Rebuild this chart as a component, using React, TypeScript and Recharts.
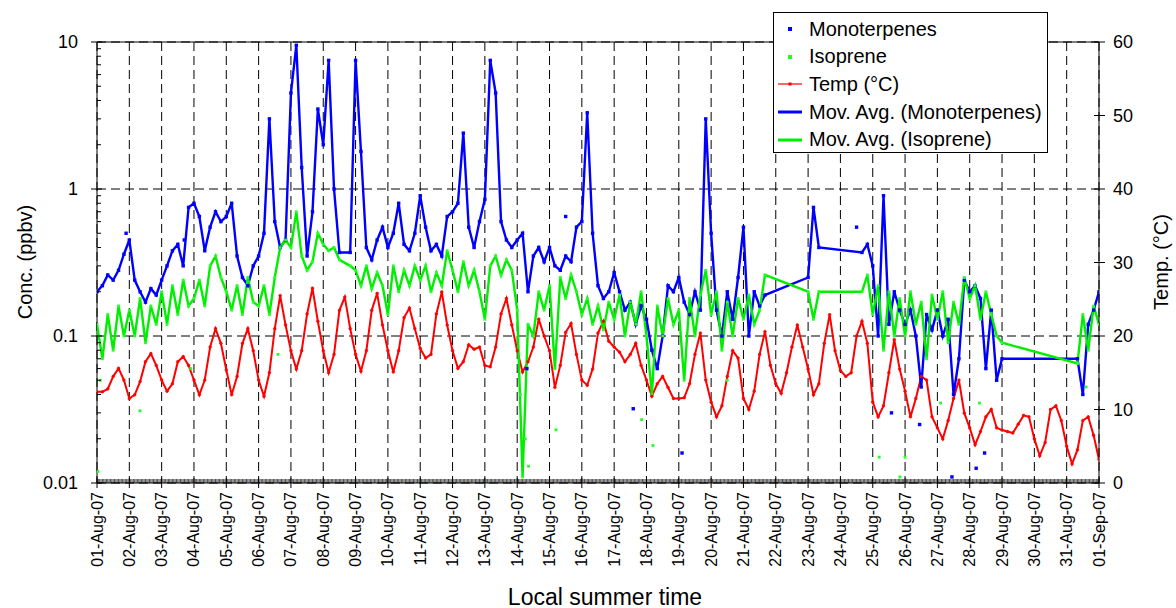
import React from 'react';
import { ComposedChart, Line, Scatter, XAxis, YAxis, CartesianGrid, ReferenceLine } from 'recharts';

// samples every 4 h, starting 01-Aug-07 00:00
const SAMPLES_PER_DAY = 6;

const dateLabels = [
  '01-Aug-07', '02-Aug-07', '03-Aug-07', '04-Aug-07', '05-Aug-07', '06-Aug-07', '07-Aug-07', '08-Aug-07',
  '09-Aug-07', '10-Aug-07', '11-Aug-07', '12-Aug-07', '13-Aug-07', '14-Aug-07', '15-Aug-07', '16-Aug-07',
  '17-Aug-07', '18-Aug-07', '19-Aug-07', '20-Aug-07', '21-Aug-07', '22-Aug-07', '23-Aug-07', '24-Aug-07',
  '25-Aug-07', '26-Aug-07', '27-Aug-07', '28-Aug-07', '29-Aug-07', '30-Aug-07', '31-Aug-07', '01-Sep-07',
];

// ppbv
const monoterpenes = [
  0.2, 0.22, 0.26, 0.24, 0.28, 0.36,
  0.45, 0.24, 0.2, 0.17, 0.21, 0.19,
  0.24, 0.3, 0.38, 0.42, 0.3, 0.75,
  0.8, 0.65, 0.38, 0.55, 0.7, 0.6,
  0.65, 0.8, 0.35, 0.25, 0.22, 0.3,
  0.35, 0.5, 3.0, 0.6, 0.4, 0.45,
  4.5, 9.5, 1.4, 0.35, 0.7, 3.5,
  2.0, 7.5, 1.0, 0.37, null, 0.37,
  7.5, 1.8, 0.4, 0.33, 0.45, 0.55,
  0.4, 0.5, 0.8, 0.42, 0.38, 0.5,
  0.9, 0.55, 0.38, 0.42, 0.35, 0.65,
  0.7, 0.8, 2.4, 0.55, 0.4, 0.6,
  0.85, 7.5, 4.5, 0.6, 0.45, 0.4,
  0.45, 0.5, 0.2, 0.35, 0.4, 0.32,
  0.4, 0.3, 0.28, 0.35, 0.32, 0.55,
  0.6, 3.3, 0.5, 0.22, 0.18, 0.2,
  0.27, 0.2, 0.15, 0.17, 0.12, 0.16,
  0.13, 0.08, 0.06, 0.1, 0.22, 0.2,
  0.25, 0.17, 0.14, 0.2, 0.15, 3.0,
  0.5, 0.15, 0.1, 0.2, 0.13, 0.25,
  0.55, 0.1, 0.2, 0.16, 0.19, null,
  null, null, null, null, null, null,
  0.25, 0.75, 0.4, null, null, null,
  null, null, null, null, 0.37, 0.42,
  0.3, 0.1, 0.9, 0.12, 0.2, 0.15,
  0.12, 0.15, 0.1, 0.045, 0.14, 0.11,
  0.15, 0.1, 0.13, 0.04, 0.07, 0.24,
  0.2, 0.22, 0.18, 0.06, 0.15, 0.05,
  0.07, null, null, null, null, null,
  null, null, null, null, null, null,
  null, null, 0.07, 0.04, 0.12, 0.15,
  0.2,
];

const isoprene = [
  0.12, 0.07, 0.14, 0.08, 0.16, 0.1,
  0.15, 0.1, 0.18, 0.09, 0.16, 0.12,
  0.2, 0.12, 0.22, 0.14, 0.24, 0.16,
  0.18, 0.24, 0.16, 0.3, 0.35, 0.25,
  0.2, 0.15, 0.22, 0.14, 0.25, 0.17,
  0.16, 0.22, 0.14, 0.25, 0.4, 0.45,
  0.4, 0.7, 0.35, 0.28, 0.32, 0.5,
  0.42, 0.38, 0.4, 0.33, null, 0.3,
  0.28, 0.22, 0.3, 0.21, 0.27, 0.22,
  0.14, 0.3, 0.2, 0.28, 0.22, 0.3,
  0.24, 0.3, 0.2, 0.27, 0.22, 0.38,
  0.28, 0.2, 0.32, 0.22, 0.28, 0.2,
  0.13, 0.3, 0.35, 0.26, 0.33, 0.28,
  0.15, 0.011, 0.12, 0.1, 0.2, 0.15,
  0.22, 0.06, 0.25, 0.18, 0.26, 0.2,
  0.14, 0.18, 0.12, 0.16, 0.11, 0.17,
  0.13, 0.19, 0.1, 0.17, 0.12, 0.2,
  0.1, 0.04, 0.16, 0.1, 0.18, 0.12,
  0.15, 0.05, 0.18, 0.1, 0.19, 0.28,
  0.14, 0.2, 0.08, 0.17, 0.1, 0.18,
  0.13, 0.19, 0.12, 0.15, 0.26, null,
  null, null, null, null, null, null,
  0.2, 0.13, 0.2, null, null, null,
  null, null, null, null, 0.2, 0.26,
  0.14, 0.22, 0.08, 0.2, 0.1, 0.18,
  0.1, 0.2, 0.12, 0.17, 0.07, 0.19,
  0.13, 0.2, 0.09, 0.17, 0.12, 0.25,
  0.18, 0.22, 0.13, 0.2, 0.14, 0.1,
  0.09, null, null, null, null, null,
  null, null, null, null, null, null,
  null, null, 0.065, 0.14, 0.08, 0.16,
  0.12,
];

// °C
const temperature = [
  12.4, 12.4, 12.8, 14.5, 15.6, 14.0,
  11.5, 12.0, 13.8, 16.5, 17.6, 16.0,
  14.0, 12.5, 13.5, 16.5, 17.2, 16.0,
  14.0, 12.0, 14.0, 18.5, 21.0, 19.0,
  15.4, 12.0, 14.5, 19.0, 21.0, 18.0,
  14.0, 11.8, 15.0, 21.0, 25.5, 21.5,
  18.0, 15.5, 18.0, 23.0, 26.5, 22.0,
  18.0, 15.0, 17.5, 23.5, 25.3, 21.0,
  17.5, 15.2, 18.0, 23.5, 25.8, 21.5,
  18.0, 15.1, 18.0, 22.5, 23.8, 21.0,
  18.3, 17.0, 17.5, 23.0, 26.0, 21.5,
  18.0, 15.6, 16.5, 18.8, 18.2, 18.5,
  16.0, 15.8, 18.5, 23.0, 25.1, 21.5,
  18.0, 15.1, 16.5, 18.5, 22.3, 20.0,
  18.0, 13.0, 16.0, 20.5, 21.7, 17.5,
  14.0, 13.3, 15.5, 20.4, 22.0, 19.3,
  18.5, 17.8, 16.5, 17.5, 19.0, 16.0,
  14.0, 11.8, 13.5, 14.5, 13.0, 11.5,
  11.5, 11.6, 13.5, 17.5, 20.4, 14.0,
  11.0, 9.0, 10.5, 14.5, 18.0, 17.0,
  11.5, 10.0, 12.5, 17.5, 20.6, 16.0,
  13.5, 12.2, 15.0, 18.5, 21.5, 18.5,
  15.5, 12.0, 13.5, 19.0, 22.9, 18.0,
  15.3, 14.5, 15.0, 20.0, 22.0, 19.0,
  11.0, 9.0, 10.5, 15.0, 19.5, 15.5,
  12.5, 9.0, 11.5, 14.5, 14.0, 9.0,
  7.5, 6.0, 8.5, 11.5, 14.0, 9.5,
  7.5, 5.2, 7.0, 9.0, 10.0, 7.5,
  7.2, 7.0, 6.8, 8.0, 9.2, 9.0,
  6.0, 3.7, 5.5, 10.0, 10.5, 8.5,
  5.0, 2.6, 4.5, 8.5, 9.0, 6.5,
  3.2,
];

// isolated raw readings away from the running mean: [day, ppbv]
const monoStray = [
  [0.9, 0.5], [2.7, 0.45], [13.3, 0.06], [14.5, 0.65], [16.59, 0.032], [18.1, 0.016],
  [23.5, 0.55], [24.58, 0.03], [25.45, 0.025], [26.45, 0.011], [27.2, 0.0126], [27.46, 0.016],
];
const isoStray = [
  [0.03, 0.012], [0.1, 0.05], [1.33, 0.031], [2.9, 0.06], [5.6, 0.075], [13.1, 0.04],
  [13.25, 0.02], [13.35, 0.013], [14.2, 0.023], [16.85, 0.027], [17.2, 0.018], [19.5, 0.05],
  [24.2, 0.015], [24.84, 0.011], [25.0, 0.015], [26.1, 0.035], [27.3, 0.035], [30.6, 0.045],
];

const concTicks = [
  0.01, 0.02, 0.03, 0.04, 0.05, 0.06, 0.07, 0.08, 0.09,
  0.1, 0.2, 0.3, 0.4, 0.5, 0.6, 0.7, 0.8, 0.9,
  1, 2, 3, 4, 5, 6, 7, 8, 9, 10,
];
const concMajor = [0.01, 0.1, 1, 10];
const concLabels = ['0.01', '0.1', '1', '10'];
const tempTicks = [0, 10, 20, 30, 40, 50, 60];
const dayTicks = dateLabels.map((_, i) => i);

// layout
const W = 1176;
const H = 608;
const M_LEFT = 37;
const M_RIGHT = 17;
const AXIS_W = 60;
const PLOT_LEFT = M_LEFT + AXIS_W;
const PLOT_RIGHT = W - M_RIGHT - AXIS_W;
const HOUR_PX = (PLOT_RIGHT - PLOT_LEFT) / 31 / 24;

const FONT = '"Liberation Sans", Arial, sans-serif';
const BLUE = '#0000ff';
const GREEN = '#00ee00';
const LIGHT_GREEN = '#22ff22';
const RED = '#ff0000';

const toSeries = (arr: (number | null)[]) => arr.map((v, i) => ({ t: i / SAMPLES_PER_DAY, v }));
const toPoints = (arr: (number | null)[], stray: number[][]) =>
  toSeries(arr)
    .filter((p) => p.v !== null)
    .concat(stray.map(([t, v]) => ({ t, v })));

const monoLine = toSeries(monoterpenes);
const isoLine = toSeries(isoprene);
const tempLine = toSeries(temperature);
const monoPoints = toPoints(monoterpenes, monoStray);
const isoPoints = toPoints(isoprene, isoStray);

const DateTick = (props: any) => {
  const { x, y, payload } = props;
  const day = payload.value;
  const minors = [];
  if (day < 31) {
    for (let h = 1; h < 24; h++) {
      const mx = x + h * HOUR_PX;
      minors.push(<line key={h} x1={mx} x2={mx} y1={y - 4} y2={y} stroke="#000" strokeWidth={0.7} />);
    }
  }
  return (
    <g>
      {minors}
      <line x1={x} x2={x} y1={y - 5} y2={y + 5} stroke="#000" />
      <text
        transform={`translate(${x + 5.5},${y + 9}) rotate(-90)`}
        textAnchor="end"
        fontSize={16}
        fontFamily={FONT}
        fill="#000"
      >
        {dateLabels[day]}
      </text>
    </g>
  );
};

const ConcTick = (props: any) => {
  const { y, payload } = props;
  const x = PLOT_LEFT;
  const idx = concMajor.indexOf(payload.value);
  if (idx < 0) {
    return <line x1={x} x2={x + 4} y1={y} y2={y} stroke="#000" />;
  }
  return (
    <g>
      <line x1={x - 6} x2={x + 5} y1={y} y2={y} stroke="#000" />
      <text x={x - 19} y={y + 6} textAnchor="end" fontSize={18} fontFamily={FONT} fill="#000">
        {concLabels[idx]}
      </text>
    </g>
  );
};

const TempTick = (props: any) => {
  const { y, payload } = props;
  const x = PLOT_RIGHT;
  return (
    <g>
      <line x1={x - 5} x2={x + 6} y1={y} y2={y} stroke="#000" />
      <text x={x + 14} y={y + 6} textAnchor="start" fontSize={18} fontFamily={FONT} fill="#000">
        {payload.value}
      </text>
    </g>
  );
};

const BlueDot = (props: any) =>
  props.cx == null ? null : <rect x={props.cx - 1.7} y={props.cy - 1.7} width={3.4} height={3.4} fill={BLUE} />;
const GreenDot = (props: any) =>
  props.cx == null ? null : <rect x={props.cx - 1.4} y={props.cy - 1.4} width={2.8} height={2.8} fill={LIGHT_GREEN} />;

const legendItems = [
  { name: 'Monoterpenes', kind: 'dot', color: BLUE },
  { name: 'Isoprene', kind: 'dot', color: LIGHT_GREEN },
  { name: 'Temp (°C)', kind: 'marker', color: RED },
  { name: 'Mov. Avg. (Monoterpenes)', kind: 'line', color: BLUE },
  { name: 'Mov. Avg. (Isoprene)', kind: 'line', color: GREEN },
];

const ChartLegend = () => (
  <div
    style={{
      position: 'absolute', left: 773, top: 12, width: 273, height: 139,
      border: '1px solid #000', background: '#fff', fontFamily: FONT, fontSize: 20,
    }}
  >
    {legendItems.map((item, i) => (
      <div key={item.name} style={{ position: 'absolute', left: 3, top: 4 + i * 27.7, height: 24, display: 'flex', alignItems: 'center', whiteSpace: 'nowrap' }}>
        <svg width={26} height={10} style={{ marginRight: 6 }}>
          {item.kind === 'dot' && <rect x={11} y={3} width={4} height={4} fill={item.color} />}
          {item.kind === 'marker' && (
            <g>
              <line x1={1} x2={25} y1={5} y2={5} stroke={item.color} strokeWidth={1.2} />
              <rect x={11.5} y={3.5} width={3} height={3} fill={item.color} />
            </g>
          )}
          {item.kind === 'line' && <line x1={1} x2={25} y1={5} y2={5} stroke={item.color} strokeWidth={3} />}
        </svg>
        <span>{item.name}</span>
      </div>
    ))}
  </div>
);

const titleStyle: React.CSSProperties = {
  position: 'absolute', fontFamily: FONT, fontSize: 20, color: '#000', whiteSpace: 'nowrap',
};

export default function App() {
  return (
    <div style={{ position: 'absolute', left: 0, top: 0, width: W, height: H, background: '#fff' }}>
      <ComposedChart width={W} height={H} margin={{ top: 42, right: M_RIGHT, bottom: 0, left: M_LEFT }}>
        <YAxis yAxisId="grid" scale="log" domain={[0.01, 10]} ticks={[0.1, 1]} hide allowDataOverflow />
        <CartesianGrid yAxisId="grid" stroke="#000" strokeDasharray="9 5" />
        <XAxis
          dataKey="t"
          type="number"
          domain={[0, 31]}
          ticks={dayTicks}
          interval={0}
          height={125}
          tickSize={0}
          tickMargin={0}
          tickLine={false}
          tick={<DateTick />}
          axisLine={{ stroke: '#000' }}
          allowDataOverflow
        />
        <YAxis
          yAxisId="left"
          scale="log"
          domain={[0.01, 10]}
          ticks={concTicks}
          interval={0}
          width={AXIS_W}
          tickSize={0}
          tickMargin={0}
          tickLine={false}
          tick={<ConcTick />}
          axisLine={false}
          allowDataOverflow
        />
        <YAxis
          yAxisId="right"
          orientation="right"
          domain={[0, 60]}
          ticks={tempTicks}
          interval={0}
          width={AXIS_W}
          tickSize={0}
          tickMargin={0}
          tickLine={false}
          tick={<TempTick />}
          axisLine={{ stroke: '#000' }}
          allowDataOverflow
        />
        <ReferenceLine yAxisId="left" y={10} stroke="#000" />
        <ReferenceLine yAxisId="left" x={0} stroke="#000" />
        <Scatter yAxisId="left" data={monoPoints} dataKey="v" shape={<BlueDot />} isAnimationActive={false} />
        <Scatter yAxisId="left" data={isoPoints} dataKey="v" shape={<GreenDot />} isAnimationActive={false} />
        <Line
          yAxisId="right"
          data={tempLine}
          dataKey="v"
          stroke={RED}
          strokeWidth={2}
          dot={{ r: 1.4, fill: RED, stroke: RED, strokeWidth: 0.5 }}
          isAnimationActive={false}
        />
        <Line
          yAxisId="left"
          data={monoLine}
          dataKey="v"
          stroke={BLUE}
          strokeWidth={2.4}
          dot={false}
          connectNulls
          isAnimationActive={false}
        />
        <Line
          yAxisId="left"
          data={isoLine}
          dataKey="v"
          stroke={GREEN}
          strokeWidth={2.4}
          dot={false}
          connectNulls
          isAnimationActive={false}
        />
      </ComposedChart>
      <ChartLegend />
      <div style={{ ...titleStyle, left: 25, top: 262, transform: 'translate(-50%, -50%) rotate(-90deg)' }}>Conc. (ppbv)</div>
      <div style={{ ...titleStyle, left: 1161, top: 262, transform: 'translate(-50%, -50%) rotate(-90deg)' }}>Temp. (°C)</div>
      <div style={{ ...titleStyle, fontSize: 23, left: 605, top: 597, transform: 'translate(-50%, -50%)' }}>Local summer time</div>
    </div>
  );
}
